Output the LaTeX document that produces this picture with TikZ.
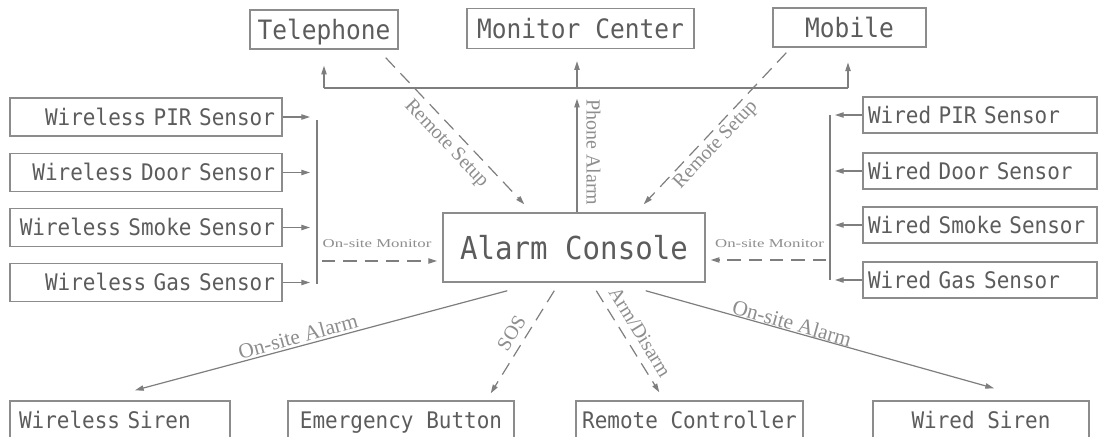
\documentclass[tikz,border=0pt]{standalone}
\usepackage{fontspec}
\usetikzlibrary{arrows.meta,calc}
\newfontfamily\monofont[FakeStretch=0.92]{DejaVu Sans Mono}
\newfontfamily\seriflab{Liberation Serif}
\newfontfamily\serifwide[FakeStretch=1.4]{Liberation Serif}
\definecolor{boxc}{HTML}{8C8C8C}
\definecolor{txtc}{HTML}{5C5C5C}
\definecolor{linec}{HTML}{7E7E7E}
\definecolor{labc}{HTML}{8E8E8E}
\tikzset{
  box/.style={draw=boxc, line width=1.1pt, inner sep=0pt, text=txtc},
  topbox/.style={box, font={\monofont\fontsize{20pt}{20pt}\selectfont}, text height=14.6pt, text depth=0pt},
  sidebox/.style={box, font={\monofont\fontsize{17.1pt}{17.1pt}\selectfont}, text height=12.4pt, text depth=0pt},
  alarmbox/.style={box, font={\monofont\fontsize{23.7pt}{23.7pt}\selectfont}, text height=17.3pt, text depth=0pt},
  leftbox/.style={sidebox, minimum width=204pt, minimum height=28.5pt, inner xsep=5.25pt, text width=193.5pt, align=right},
  rightbox/.style={sidebox, minimum width=175.5pt, minimum height=27pt, inner xsep=3.75pt, text width=168pt, align=left},
  botbox/.style={sidebox, minimum height=28.5pt},
  line/.style={draw=linec, line width=0.9pt},
  arr/.style={line, -{Triangle[length=6.5pt,width=4pt]}},
  dasharr/.style={arr, dash pattern=on 10pt off 6pt},
  lab/.style={font={\seriflab\fontsize{15pt}{15pt}\selectfont}, text=labc, inner sep=0pt},
  biglab/.style={font={\seriflab\fontsize{16pt}{16pt}\selectfont}, text=labc, inner sep=0pt},
  smalllab/.style={font={\serifwide\fontsize{9pt}{9pt}\selectfont}, text=labc, inner sep=0pt}
}
\begin{document}
\begin{tikzpicture}[x=0.75pt,y=-0.75pt]
\useasboundingbox (0,0) rectangle (1099,436);
\clip (0,0) rectangle (1099,436);
\fill[white] (0,0) rectangle (1099,436);

% top row
\node[topbox, minimum width=111pt, minimum height=29.25pt] (tel) at (324,29.5) {Telephone};
\node[topbox, minimum width=170.25pt, minimum height=30pt] (mon) at (580.5,28.5) {Monitor Center};
\node[topbox, minimum width=114.75pt, minimum height=29.25pt] (mob) at (849.5,27.5) {Mobile};

% console
\node[alarmbox, minimum width=196.5pt, minimum height=51.75pt] (ac) at (574,247.5) {Alarm Console};

% left sensors
\node[leftbox] (wpir) at (146,117) {Wireless PIR Sensor};
\node[leftbox] (wdoor) at (146,172.5) {Wireless Door Sensor};
\node[leftbox] (wsmoke) at (146,227.5) {Wireless Smoke Sensor};
\node[leftbox] (wgas) at (146,282.5) {Wireless Gas Sensor};

% right sensors
\node[rightbox] (dpir) at (980,115) {Wired PIR Sensor};
\node[rightbox] (ddoor) at (980,171) {Wired Door Sensor};
\node[rightbox] (dsmoke) at (980,225) {Wired Smoke Sensor};
\node[rightbox] (dgas) at (980,280) {Wired Gas Sensor};

% bottom row
\node[botbox, minimum width=165pt, inner xsep=6.75pt, text width=151.5pt, align=left] (ws) at (120,420) {Wireless Siren};
\node[botbox, minimum width=169.5pt] (eb) at (401,420) {Emergency Button};
\node[botbox, minimum width=170.25pt] (rc) at (689.5,420) {Remote Controller};
\node[botbox, minimum width=162pt] (wsr) at (981,420) {Wired Siren};

% top distribution
\coordinate (hl) at (324,88);
\coordinate (hm) at (577,88);
\coordinate (hr) at (848,88);
\draw[line] (hl) -- (hr);
\draw[arr, shorten >=12pt] (hl) -- (tel.south);
\draw[arr, shorten >=9pt] (hm) -- (hm |- mon.south);
\draw[arr, shorten >=11pt] (hr) -- (hr |- mob.south);
\draw[arr, shorten >=8pt] (hm |- ac.north) -- (hm);
\node[lab, rotate=-90] (pal) at (593.5,152.5) {Phone Alarm};

% remote setup
\draw[dasharr] ($(tel.south east)+(-13,8)$) -- ($(ac.north west)+(82,-8)$);
\draw[dasharr] ($(mob.south west)+(14,5)$) -- ($(ac.north east)+(-62,-8)$);
\node[lab, rotate=-46.6] (lrs) at (446,144) {Remote Setup};
\node[lab, rotate=46.7] (rrs) at (716,145) {Remote Setup};

% left bus
\coordinate (lbt) at (317,120);
\coordinate (lbb) at (317,284);
\draw[line] (lbt) -- (lbb);
\foreach \n in {wpir,wdoor,wsmoke,wgas}
  \draw[arr, shorten >=5.25pt] (\n.east) -- (\n.east -| lbt);

% right bus
\coordinate (rbt) at (830,115);
\coordinate (rbb) at (830,280);
\draw[line] (rbt) -- (rbb);
\foreach \n in {dpir,ddoor,dsmoke,dgas}
  \draw[arr, shorten >=3.75pt] (\n.west) -- (\n.west -| rbt);

% on-site monitor
\coordinate (lm) at (322,261);
\coordinate (rm) at (826,260);
\draw[dasharr, shorten >=4pt] (lm) -- (lm -| ac.west);
\draw[dasharr, shorten >=3.75pt] (rm) -- (rm -| ac.east);
\node[smalllab] (lom) at (377,244) {On-site Monitor};
\node[smalllab] (rom) at (769.5,243.5) {On-site Monitor};

% bottom connectors
\draw[arr] ($(ac.south west)+(65,8)$) -- ($(ws.north)+(15,-10)$);
\draw[dasharr] ($(ac.south west)+(112,8)$) -- ($(eb.north east)+(-24,-7)$);
\draw[dasharr] ($(ac.south west)+(154,8)$) -- ($(rc.north west)+(84,-8)$);
\draw[arr] ($(ac.south east)+(-60,8)$) -- ($(wsr.north)+(13,-12)$);
\node[biglab, rotate=15.2] (loa) at (298,336) {On-site Alarm};
\node[biglab, rotate=-15.8] (roa) at (792,323) {On-site Alarm};
\node[lab, rotate=58.2] (sos) at (511.5,333) {SOS};
\node[lab, rotate=-58.5] (adm) at (640,332) {Arm/Disarm};
\end{tikzpicture}
\end{document}
